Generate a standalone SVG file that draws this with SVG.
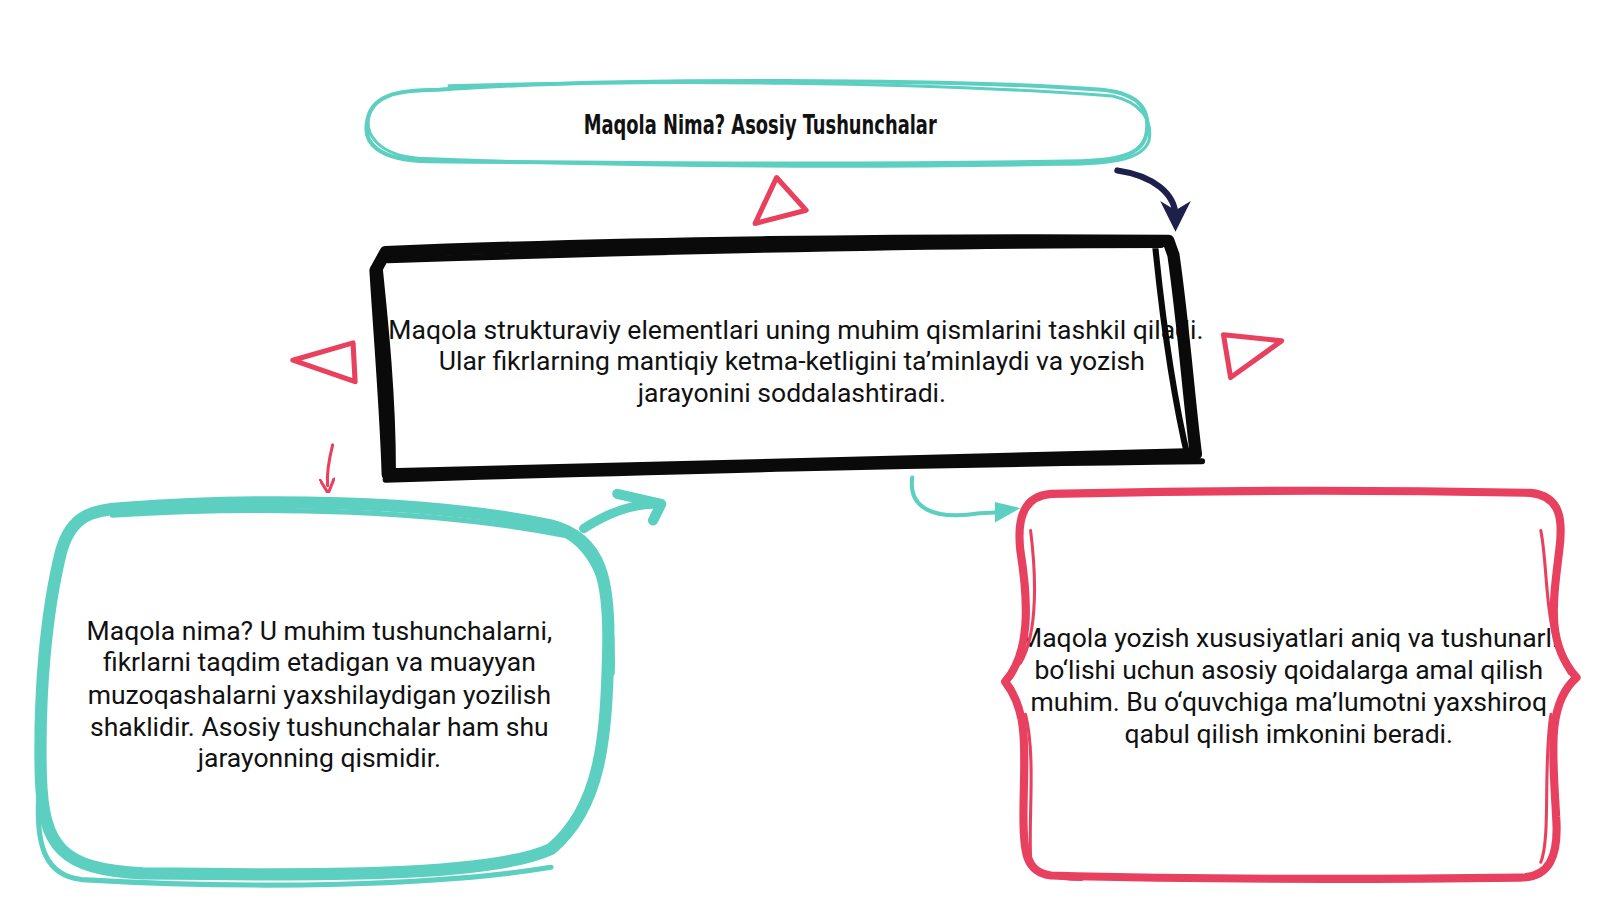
<svg xmlns="http://www.w3.org/2000/svg" width="1600" height="900" viewBox="0 0 1600 900">
<defs>
<style>
.body{font-family:Roboto,"Liberation Sans",sans-serif;font-size:26px;fill:#111;text-anchor:middle}
.title{font-family:"DejaVu Sans Condensed","Roboto Condensed","Liberation Sans",sans-serif;font-weight:bold;font-size:26px;fill:#111;text-anchor:middle}
.teal{fill:none;stroke:#5CCFC1;stroke-linecap:round;stroke-linejoin:round}
.red{fill:none;stroke:#E8415F;stroke-linecap:round;stroke-linejoin:round}
.blk{fill:none;stroke:#0a0a0a;stroke-linecap:round;stroke-linejoin:round}
</style>
<marker id="hNavy" viewBox="0 0 10 10" refX="5" refY="5" markerWidth="5" markerHeight="5" orient="auto"><path d="M0,0 L10,5 L0,10 L3,5 Z" fill="#1E1F4B"/></marker>
<marker id="hRed" viewBox="0 0 10 10" refX="5" refY="5" markerWidth="5" markerHeight="5" orient="auto"><path d="M0,0 L10,5 L0,10" fill="none" stroke="#E8415F" stroke-width="2"/></marker>
</defs>
<rect width="1600" height="900" fill="#ffffff"/>
<g transform="scale(1.0204)">

<g id="connectors">
<path d="M1095,167 C1130,172 1152,190 1152,212" fill="none" stroke="#1E1F4B" stroke-width="6" stroke-linecap="round" marker-end="url(#hNavy)"/>
<path d="M326,436 C322,452 320,464 321,476" fill="none" stroke="#E8415F" stroke-width="3" stroke-linecap="round" marker-end="url(#hRed)"/>
<path d="M572,518 C595,503 620,494 642,494" fill="none" stroke="#5CCFC1" stroke-width="9" stroke-linecap="round"/>
<path d="M605,484 L648,494 L640,510" fill="none" stroke="#5CCFC1" stroke-width="10" stroke-linecap="round" stroke-linejoin="round"/>
<path d="M894,468 C890,498 915,510 960,503 L980,502" fill="none" stroke="#5CCFC1" stroke-width="4" stroke-linecap="round"/>
<path d="M975,492 L1000,498 L975,512 Z" fill="#5CCFC1"/>
</g>

<g id="triangles">
<path d="M761,174 L790,206 L740,219 Z" class="red" stroke-width="5"/>
<path d="M287,353 L346,336 L348,374 Z" class="red" stroke-width="5"/>
<path d="M1199,328 L1256,334 L1206,370 Z" class="red" stroke-width="5"/>
</g>

<g id="title">
<path d="M430,88 C600,75 950,78 1080,88 C1120,92 1126,110 1124,128 C1122,150 1100,157 1060,158 C850,162 600,160 420,158 C370,157 355,140 360,118 C364,95 385,88 430,88 Z" class="teal" stroke-width="4"/>
<path d="M440,84 C650,78 900,80 1090,94 C1118,100 1130,118 1126,138 C1120,155 1095,161 1040,161 C800,165 600,163 410,155 C372,152 356,132 362,112" class="teal" stroke-width="3"/>
<text x="745" y="131" class="title" textLength="346" lengthAdjust="spacingAndGlyphs">Maqola Nima? Asosiy Tushunchalar</text>
</g>

<g id="center">
<text class="body"><tspan x="780" y="332">Maqola strukturaviy elementlari uning muhim qismlarini tashkil qiladi.</tspan><tspan x="776" y="363">Ular fikrlarning mantiqiy ketma-ketligini ta’minlaydi va yozish</tspan><tspan x="776" y="394">jarayonini soddalashtiradi.</tspan></text>
<path d="M378,247 C600,238 900,234 1145,236 L1150,250 C1160,320 1165,390 1172,445 C900,450 650,460 380,465 C378,400 372,330 368,265 Z" class="blk" stroke-width="12"/>
<path d="M380,255 C650,246 900,240 1138,240 M1132,240 C1140,320 1150,390 1165,452 M1178,452 C900,455 650,462 378,470 M385,460 C385,390 378,320 372,262" class="blk" stroke-width="6"/>
</g>

<g id="left">
<path d="M120,498 C250,488 420,490 540,515 C590,528 598,570 596,640 C594,720 590,790 540,832 C480,860 300,858 140,856 C60,852 42,830 40,760 C38,680 45,600 60,540 C70,505 90,500 120,498 Z" class="teal" stroke-width="12" fill="#fff"/>
<path d="M110,505 C260,495 430,500 555,525 C590,545 602,600 600,660 M540,850 C430,868 250,872 80,862 C45,858 35,830 38,780" class="teal" stroke-width="5"/>
<text class="body"><tspan x="313" y="627">Maqola nima? U muhim tushunchalarni,</tspan><tspan x="313" y="658">fikrlarni taqdim etadigan va muayyan</tspan><tspan x="313" y="690">muzoqashalarni yaxshilaydigan yozilish</tspan><tspan x="313" y="721">shaklidir. Asosiy tushunchalar ham shu</tspan><tspan x="313" y="752">jarayonning qismidir.</tspan></text>
</g>

<g id="right">
<text class="body"><tspan x="1263" y="634">Maqola yozish xususiyatlari aniq va tushunarli</tspan><tspan x="1263" y="665">bo‘lishi uchun asosiy qoidalarga amal qilish</tspan><tspan x="1263" y="697">muhim. Bu o‘quvchiga ma’lumotni yaxshiroq</tspan><tspan x="1263" y="728">qabul qilish imkonini beradi.</tspan></text>
<path d="M1030,484 C1200,480 1350,480 1500,483 C1530,486 1532,510 1528,540 C1522,590 1515,630 1545,664 C1515,690 1522,740 1525,800 C1528,840 1518,860 1490,860 C1330,862 1180,862 1030,858 C1005,855 1003,835 1003,800 C1003,740 1010,700 985,668 C1010,640 1008,590 1000,540 C996,505 1005,486 1030,484 Z" class="red" stroke-width="8"/>
<path d="M1010,520 C1015,560 1018,620 1000,650 M1510,520 C1518,560 1512,620 1538,660 M1005,700 C1015,740 1008,800 1010,840 C1015,855 1030,862 1060,862 M1520,700 C1512,750 1520,820 1510,845" class="red" stroke-width="3"/>
</g>
</g>
</svg>
